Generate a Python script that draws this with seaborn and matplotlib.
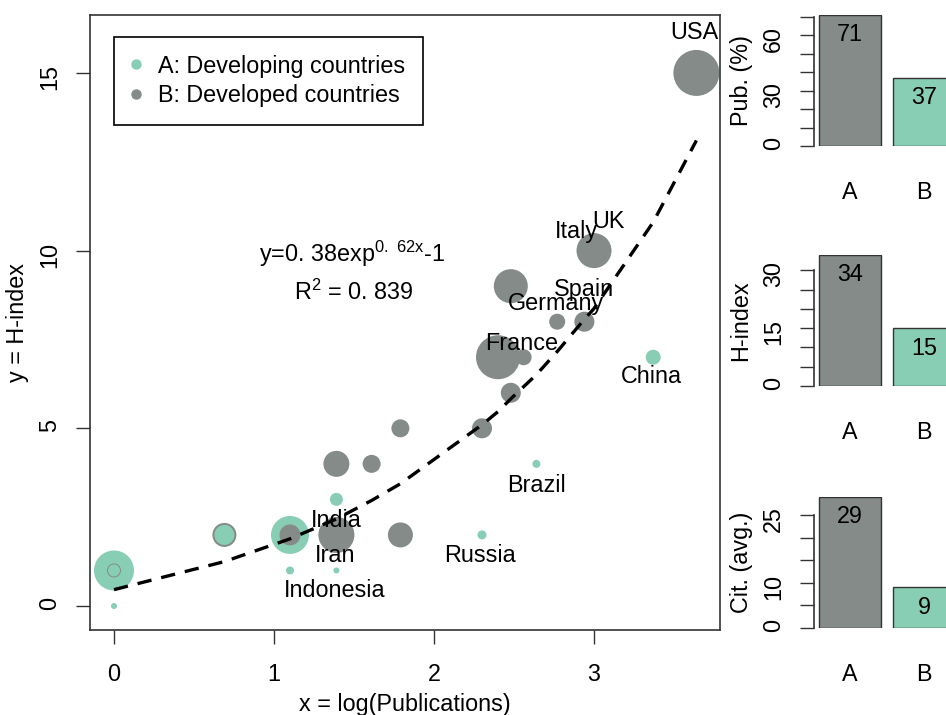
import matplotlib
matplotlib.use('Agg')
import matplotlib.pyplot as plt
import seaborn as sns
import pandas as pd
import numpy as np
from matplotlib.lines import Line2D
from matplotlib.ticker import FixedLocator, FuncFormatter

# ---------------- data ----------------
# scatter points (in drawing order)
pt_x = [0.00, 1.10,
        0.00, 0.69, 1.10, 1.39, 1.39, 1.61, 1.79, 1.79, 2.30, 2.40, 2.56, 2.48, 2.48, 2.77, 2.94, 3.00, 3.64,
        0.00, 0.69, 0.00, 1.10, 1.39, 1.39, 2.30, 2.64, 3.37]
pt_y = [1, 2,
        1, 2, 2, 2, 4, 4, 2, 5, 5, 7, 7, 6, 9, 8, 8, 10, 15,
        1, 2, 0, 1, 1, 3, 2, 4, 7]
pt_group = ['A', 'A',
            'B', 'B', 'B', 'B', 'B', 'B', 'B', 'B', 'B', 'B', 'B', 'B', 'B', 'B', 'B', 'B', 'B',
            'A', 'A', 'A', 'A', 'A', 'A', 'A', 'A', 'A']
pt_cites = [20, 19,
            7, 12, 10.5, 18, 13, 9, 12.5, 9, 10, 22, 8, 10, 17, 8, 10, 17.5, 23,
            6, 10, 3, 4, 3, 6.5, 4.5, 4, 7.5]

# fitted curve
fit_x = [0.00, 0.69, 1.10, 1.39, 1.61, 1.79, 2.30, 2.40, 2.48, 2.56, 2.64, 2.77, 2.94, 3.00, 3.37, 3.64]
fit_y = [0.46, 1.25, 1.89, 2.45, 2.97, 3.44, 5.10, 5.47, 5.83, 6.17, 6.51, 7.16, 8.07, 8.37, 10.80, 13.10]

# country labels
label_names = ['USA', 'UK', 'Italy', 'Spain', 'Germany', 'France', 'China',
               'Brazil', 'Russia', 'India', 'Iran', 'Indonesia']
label_x = [3.625, 3.09, 2.89, 2.94, 2.76, 2.55, 3.36, 2.64, 2.29, 1.39, 1.38, 1.38]
label_y = [16.15, 10.82, 10.53, 8.92, 8.50, 7.39, 6.47, 3.40, 1.43, 2.42, 1.43, 0.45]

legend_labels = ['A: Developing countries', 'B: Developed countries']

# side bar panels
bar_cats = ['A', 'B']
pub_pct = [71, 37]
h_index = [34, 15]
cit_avg = [29, 9]

GREEN = '#88CEB4'
GRAY = '#858B88'
EDGE = '#333333'

sns.set_theme(style='white')
plt.rcParams['font.family'] = ['Liberation Sans', 'DejaVu Sans']
plt.rcParams['mathtext.default'] = 'regular'
plt.rcParams['text.color'] = 'black'
plt.rcParams['axes.labelcolor'] = 'black'
FS = 16.8

W, H = 946, 715
fig = plt.figure(figsize=(W / 100, H / 100), dpi=100)
fig.patch.set_facecolor('white')


def axpos(l, t, r, b):
    return [l / W, 1 - b / H, (r - l) / W, (b - t) / H]


# ---------------- main scatter ----------------
ax = fig.add_axes(axpos(90, 15, 720, 630))
df = pd.DataFrame(dict(x=pt_x, y=pt_y, group=pt_group, cites=pt_cites))
sizes = {c: (1.44 * c) ** 2 for c in sorted(set(pt_cites))}
sns.scatterplot(data=df, x='x', y='y', hue='group', palette={'A': GREEN, 'B': GRAY},
                size='cites', sizes=sizes, linewidth=0, legend=False, ax=ax, zorder=2)
sns.lineplot(x=fit_x, y=fit_y, ax=ax, color='black', linewidth=2.4,
             linestyle=(0, (4.3, 3.0)), zorder=3, sort=False)

for n, lx, ly in zip(label_names, label_x, label_y):
    ax.text(lx, ly, n, ha='center', va='center', fontsize=FS, color='black', zorder=5)

ax.text(1.49, 9.68, r'y=0. 38exp$^{0.\ 62x}$-1', ha='center', va='baseline',
        fontsize=FS, color='black')
ax.text(1.50, 8.61, r'R$^{2}$ = 0. 839', ha='center', va='baseline',
        fontsize=FS, color='black')

ax.set_xlim(-0.15, 3.7875)
ax.set_ylim(-0.675, 16.63)
ax.set_xticks([0, 1, 2, 3])
ax.set_yticks([0, 5, 10, 15])
ax.tick_params(axis='both', direction='out', length=10, width=1, color=EDGE,
               labelsize=FS, bottom=True, left=True, labelcolor='black')
ax.tick_params(axis='x', pad=13.5)
ax.tick_params(axis='y', pad=10.5, labelrotation=90)
for s in ax.spines.values():
    s.set_color(EDGE)
    s.set_linewidth(1.2)

ax.set_xlabel('x = log(Publications)', fontsize=FS, color='black')
ax.set_ylabel('y = H-index', fontsize=FS, color='black')
ax.xaxis.set_label_coords(0.5, -0.102)
ax.yaxis.set_label_coords(-0.0968, 0.5)

handles = [Line2D([], [], marker='o', ls='', color=GREEN, markersize=6.5),
           Line2D([], [], marker='o', ls='', color=GRAY, markersize=6.5)]
leg = ax.legend(handles, legend_labels, loc='upper left',
                bbox_to_anchor=(24 / 630, 1 - 22 / 615), borderaxespad=0,
                frameon=True, fancybox=False, edgecolor='black', framealpha=1,
                fontsize=FS, borderpad=0.75, handlelength=0.4, handletextpad=0.75,
                labelspacing=0.28)
leg.get_frame().set_linewidth(1.2)

# ---------------- side bar panels ----------------
panels = [
    (pub_pct, 146, 'Pub. (%)', 10, 70, [0, 30, 60]),
    (h_index, 386, 'H-index', 5, 30, [0, 15, 30]),
    (cit_avg, 628, 'Cit. (avg.)', 5, 25, [0, 10, 25]),
]
for vals, zero_px, ylab, step, top_tick, shown in panels:
    axb = fig.add_axes(axpos(813.5, zero_px - 131, 813.5 + 147.3, zero_px))
    axb.set_facecolor('none')
    sns.barplot(x=bar_cats, y=vals, hue=bar_cats, palette={'A': GRAY, 'B': GREEN},
                saturation=1, width=1 / 1.2, edgecolor=EDGE, linewidth=1,
                errorbar=None, legend=False, ax=axb)
    axb.set_xlim(-0.49, 1.49)
    axb.set_ylim(0, max(vals))
    axb.yaxis.set_major_locator(FixedLocator(list(np.arange(0, top_tick + 1, step))))
    axb.yaxis.set_major_formatter(FuncFormatter(
        lambda v, p, shown=shown: f'{int(round(v))}' if int(round(v)) in shown else ''))
    for k in ['top', 'right', 'bottom']:
        axb.spines[k].set_visible(False)
    axb.spines['left'].set_bounds(0, top_tick)
    axb.spines['left'].set_color(EDGE)
    axb.spines['left'].set_linewidth(1.2)
    axb.tick_params(axis='y', left=True, direction='out', length=10, width=1, color=EDGE,
                    labelsize=FS, pad=10.5, labelrotation=90, labelcolor='black')
    axb.tick_params(axis='x', bottom=False, length=0, labelsize=FS, pad=25, labelcolor='black')
    axb.set_xlabel('')
    axb.set_ylabel(ylab, fontsize=FS, color='black')
    axb.yaxis.set_label_coords(-0.414, 0.5)
    for patch, v in zip(axb.patches, vals):
        axb.annotate(str(v), (patch.get_x() + patch.get_width() / 2, patch.get_height()),
                     xytext=(0, -6), textcoords='offset points', ha='center', va='top',
                     fontsize=FS, color='black')

fig.savefig('out.png', dpi=100)
